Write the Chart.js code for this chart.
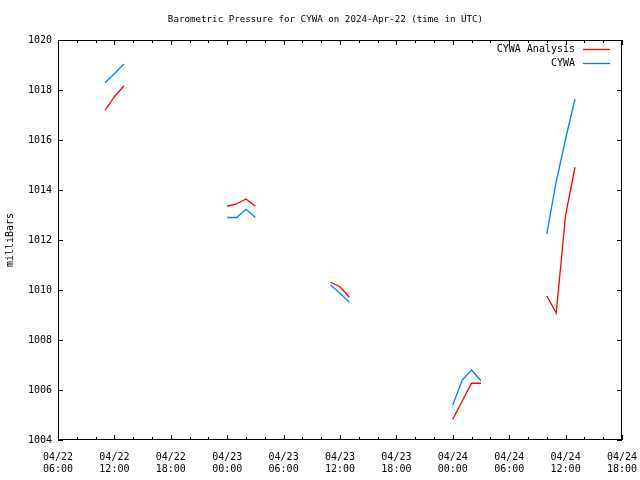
<!DOCTYPE html>
<html>
<head>
<meta charset="utf-8">
<script src="https://cdn.jsdelivr.net/npm/chart.js@4"></script>
<style>
html,body{margin:0;padding:0;background:#fff;}
#wrap{width:640px;height:480px;position:relative;}
</style>
</head>
<body>
<div id="wrap"><canvas id="c" width="640" height="480"></canvas></div>
<script>
// Hours since 2024-04-22 00:00 UTC
const hours = [11,12,13, 24,25,26,27, 35,36,37, 48,49,50,51, 58,59,60,61];
const analysisValues = [1017.19,1017.73,1018.16, 1013.35,1013.44,1013.64,1013.35, 1010.31,1010.13,1009.71, 1004.83,1005.56,1006.27,1006.27, 1009.76,1009.09,1013.0,1014.91];
const stationValues = [1018.29,1018.65,1019.04, 1012.9,1012.9,1013.23,1012.9, 1010.2,1009.87,1009.51, 1005.4,1006.4,1006.8,1006.37, 1012.24,1014.33,1016.05,1017.63];
const xTickLabels = {6:['04/22','06:00'],12:['04/22','12:00'],18:['04/22','18:00'],24:['04/23','00:00'],30:['04/23','06:00'],36:['04/23','12:00'],42:['04/23','18:00'],48:['04/24','00:00'],54:['04/24','06:00'],60:['04/24','12:00'],66:['04/24','18:00']};
const seriesNames = ['CYWA Analysis','CYWA'];
const seriesColors = ['#ff0000','#0080ff'];
const chartTitle = 'Barometric Pressure for CYWA on 2024-Apr-22 (time in UTC)';

function buildPoints(xs, ys){
  const pts=[];
  for(let i=0;i<xs.length;i++){
    if(i>0 && xs[i]-xs[i-1]>1){ pts.push({x:(xs[i]+xs[i-1])/2, y:null}); }
    pts.push({x:xs[i], y:ys[i]});
  }
  return pts;
}

const FONT = "'DejaVu Sans Mono', 'Liberation Mono', monospace";

const frame = {
  id:'frame',
  afterDatasetsDraw(chart){
    const ctx=chart.ctx, a=chart.chartArea, xs=chart.scales.x, ys=chart.scales.y;
    ctx.save();
    ctx.strokeStyle='#000'; ctx.lineWidth=1;
    ctx.strokeRect(Math.round(a.left)+0.5, Math.round(a.top)+0.5, Math.round(a.right-a.left)-1, Math.round(a.bottom-a.top)-1);
    ctx.beginPath();
    for(let h=6; h<=66; h+=2){
      const px=Math.round(xs.getPixelForValue(h))+0.5;
      const len = (h%6===0)?5:3;
      ctx.moveTo(px,a.bottom); ctx.lineTo(px,a.bottom-len);
      ctx.moveTo(px,a.top); ctx.lineTo(px,a.top+len);
    }
    for(let v=1004; v<=1020; v+=2){
      const py=Math.round(ys.getPixelForValue(v))+0.5;
      ctx.moveTo(a.left,py); ctx.lineTo(a.left+5,py);
      ctx.moveTo(a.right,py); ctx.lineTo(a.right-5,py);
    }
    ctx.stroke();
    ctx.restore();
    // title
    ctx.save();
    ctx.font='9.2px '+FONT; ctx.fillStyle='#000'; ctx.textAlign='center'; ctx.textBaseline='middle';
    ctx.fillText(chartTitle, 325.5, 19.5);
    ctx.restore();
    // legend (gnuplot style, inside top-right)
    for(let i=0;i<seriesNames.length;i++){
      const y=Math.round(a.top+9+i*14)+0.5;
      ctx.save();
      ctx.font='10px '+FONT; ctx.fillStyle='#000'; ctx.textAlign='right'; ctx.textBaseline='middle';
      ctx.fillText(seriesNames[i], a.right-47, y);
      ctx.lineWidth=1.3; ctx.strokeStyle=seriesColors[i];
      ctx.beginPath(); ctx.moveTo(a.right-39,y); ctx.lineTo(a.right-12,y); ctx.stroke();
      ctx.restore();
    }
  }
};

new Chart(document.getElementById('c'),{
  type:'line',
  data:{datasets:[
    {label:seriesNames[0], data:buildPoints(hours,analysisValues), borderColor:seriesColors[0], borderWidth:1.3, pointRadius:0, spanGaps:false, tension:0},
    {label:seriesNames[1], data:buildPoints(hours,stationValues), borderColor:seriesColors[1], borderWidth:1.3, pointRadius:0, spanGaps:false, tension:0}
  ]},
  options:{
    responsive:false, animation:false, devicePixelRatio:1,
    layout:{padding:{left:0,right:18,top:40,bottom:0}},
    plugins:{ legend:{display:false}, tooltip:{enabled:false}, title:{display:false} },
    scales:{
      x:{type:'linear', min:6, max:66,
        afterBuildTicks(s){ s.ticks=Object.keys(xTickLabels).map(k=>({value:+k})); },
        afterFit(s){ s.height=40; s.paddingLeft=0; s.paddingRight=0; },
        ticks:{color:'#000', padding:11, maxRotation:0, autoSkip:false, font:{family:FONT,size:10,lineHeight:1.2}, callback:(v)=>xTickLabels[v]||''},
        grid:{display:false, drawTicks:false}, border:{display:false}},
      y:{min:1004, max:1020,
        afterFit(s){ s.width=58; s.paddingTop=0; s.paddingBottom=0; },
        ticks:{stepSize:2, color:'#000', padding:6, font:{family:FONT,size:10}, callback:(v)=>String(v)},
        grid:{display:false, drawTicks:false}, border:{display:false},
        title:{display:true, text:'milliBars', color:'#000', font:{family:FONT,size:10}, padding:{top:4,bottom:0}}}
    }
  },
  plugins:[frame]
});
</script>
</body>
</html>
